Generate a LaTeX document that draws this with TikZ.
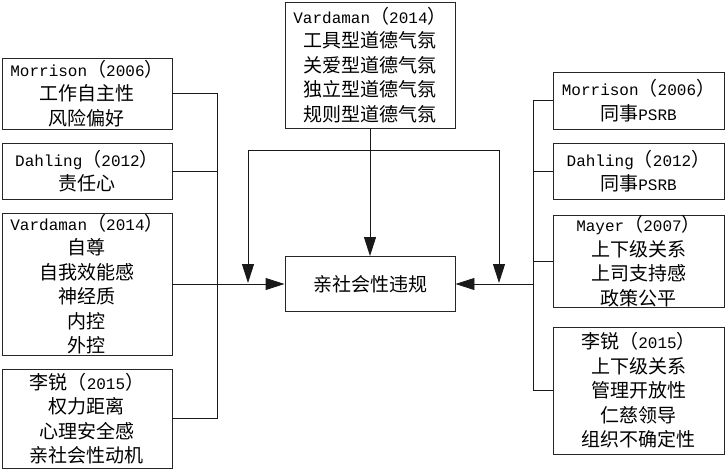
\documentclass[tikz,border=0pt]{standalone}
\usepackage{fontspec}
\setmainfont{Noto Sans CJK SC}
\newfontfamily\monof{Liberation Mono}
\usetikzlibrary{arrows.meta}
\newcommand\en[1]{{\fontsize{16}{24.5}\selectfont\monof #1}}
\begin{document}
\begin{tikzpicture}[x=1pt,y=-1pt,
  >={Triangle[length=19pt,width=12pt]},
  box/.style={draw=black!85, line width=0.9pt, fill=white, inner sep=0pt, align=center,
    font=\fontsize{19}{24.5}\selectfont},
  conn/.style={draw=black!90, line width=0.9pt}]
\useasboundingbox (0,0) rectangle (726,472);
% left
\node[box, minimum width=170pt, minimum height=71pt] (L1) at (87,93.5) {\en{Morrison}（\en{2006}）\\工作自主性\\风险偏好};
\node[box, minimum width=170pt, minimum height=56pt] (L2) at (87,171) {\en{Dahling}（\en{2012}）\\责任心};
\node[box, minimum width=170pt, minimum height=142pt] (L3) at (87,284) {\en{Vardaman}（\en{2014}）\\自尊\\自我效能感\\神经质\\内控\\外控};
\node[box, minimum width=170pt, minimum height=99pt] (L4) at (87,418.5) {李锐（\en{2015}）\\权力距离\\心理安全感\\亲社会性动机};
% top
\node[box, minimum width=170pt, minimum height=126pt] (T) at (370,65) {\en{Vardaman}（\en{2014}）\\工具型道德气氛\\关爱型道德气氛\\独立型道德气氛\\规则型道德气氛};
% center
\node[box, minimum width=170pt, minimum height=55pt] (C) at (370,284) {亲社会性违规};
% right
\node[box, minimum width=171pt, minimum height=57pt] (R1) at (638.5,100.5) {\en{Morrison}（\en{2006}）\\同事\en{PSRB}};
\node[box, minimum width=171pt, minimum height=56pt] (R2) at (638.5,171) {\en{Dahling}（\en{2012}）\\同事\en{PSRB}};
\node[box, minimum width=171pt, minimum height=92pt] (R3) at (638.5,261) {\en{Mayer}（\en{2007}）\\上下级关系\\上司支持感\\政策公平};
\node[box, minimum width=171pt, minimum height=127pt] (R4) at (638.5,390.5) {李锐（\en{2015}）\\上下级关系\\管理开放性\\仁慈领导\\组织不确定性};
% helper coordinates
\coordinate (lx) at (217,0);
\coordinate (rx) at (533,0);
\coordinate (hl) at (248,150);
\coordinate (hr) at (499,150);
\coordinate (dl) at (248,283);
\coordinate (dr) at (499,283);
% left connectors
\draw[conn] (L1.east) -| (L4.east -| lx) -- (L4.east);
\draw[conn] (L2.east) -- (L2.east -| lx);
\draw[conn,->] (L3.east) -- (C.west);
% right connectors
\draw[conn] (R1.west) -| (R4.west -| rx) -- (R4.west);
\draw[conn] (R2.west) -- (R2.west -| rx);
\draw[conn] (R3.west) -- (R3.west -| rx);
\draw[conn,->] (C.east -| rx) -- (C.east);
% top connectors
\draw[conn,->] (T.south) -- (C.north);
\draw[conn,<->] (dl) -- (hl) -- (hr) -- (dr);
\end{tikzpicture}
\end{document}
